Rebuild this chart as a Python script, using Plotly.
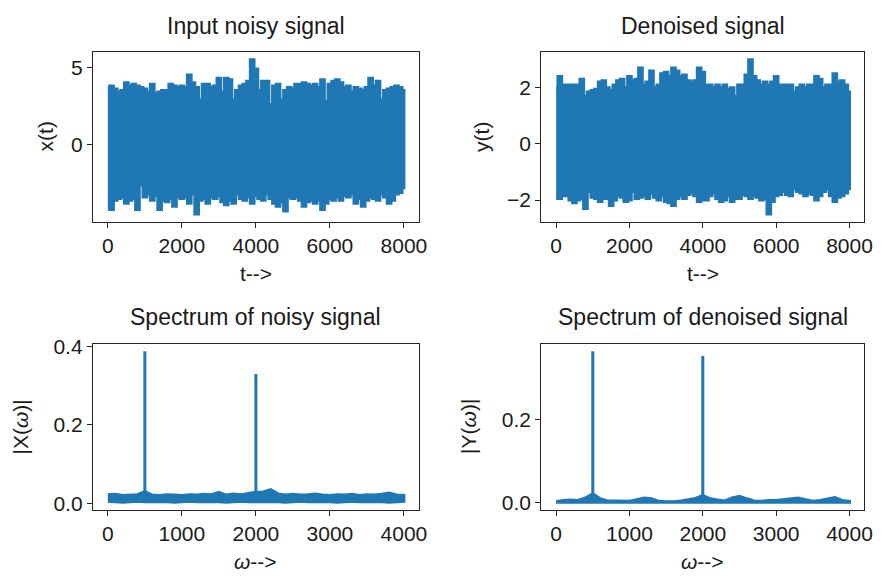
import plotly.graph_objects as go

W, H = 888, 583
BLUE = "#1f77b4"
FONT = "Liberation Sans, Arial, Helvetica, sans-serif"

# ---------------- data ----------------
# time-domain envelopes, sampled every 100 samples (t = 0..8000)
t_env = list(range(0, 8001, 100))
noisy_upper = [3.7, 3.8, 3.6, 3.4, 3.5, 4.0, 3.8, 3.9, 3.8, 3.7,
               3.6, 3.4, 3.9, 3.3, 3.4, 3.5, 3.5, 3.9, 3.8, 3.7,
               3.8, 3.7, 4.5, 4.0, 3.7, 2.9, 3.9, 3.9, 3.7, 3.8,
               4.3, 3.4, 4.3, 4.2, 2.9, 3.5, 3.8, 3.9, 4.1, 5.5,
               4.9, 3.5, 4.1, 4.1, 2.6, 3.8, 3.9, 2.9, 3.5, 3.7,
               3.6, 3.9, 3.9, 4.0, 3.9, 3.8, 3.9, 3.7, 4.2, 2.8,
               3.9, 4.1, 4.2, 4.0, 3.7, 3.8, 3.4, 3.7, 3.6, 3.5,
               3.7, 4.3, 3.8, 4.1, 2.9, 3.5, 3.6, 3.7, 3.8, 3.7, 3.5]
noisy_lower = [-4.1, -4.2, -3.6, -3.5, -3.4, -3.8, -3.6, -3.5, -4.2, -2.6,
               -3.4, -3.2, -3.6, -3.3, -4.2, -3.6, -3.7, -3.5, -4.0, -3.4,
               -3.5, -3.4, -3.8, -3.2, -4.5, -3.6, -3.5, -3.8, -3.4, -3.5,
               -3.3, -3.7, -3.9, -3.6, -3.8, -3.2, -3.5, -3.6, -3.4, -3.8,
               -3.3, -3.5, -3.6, -3.2, -3.5, -3.8, -4.0, -3.7, -4.3, -3.4,
               -3.5, -3.4, -3.6, -4.0, -3.7, -3.6, -3.8, -3.6, -4.2, -3.8,
               -3.5, -3.6, -3.4, -3.6, -3.3, -3.4, -3.2, -3.8, -3.5, -4.0,
               -3.6, -3.4, -3.5, -3.6, -3.2, -3.4, -3.8, -3.6, -3.2, -3.1, -2.8]
den_upper = [2.0, 2.4, 2.1, 2.1, 2.1, 2.1, 2.1, 2.3, 1.7, 1.85,
             1.9, 1.95, 2.2, 2.25, 2.0, 1.9, 2.1, 2.25, 2.3, 2.0,
             2.4, 2.25, 2.3, 2.7, 2.1, 2.2, 2.6, 2.0, 2.1, 2.5,
             2.55, 2.4, 2.7, 2.6, 2.4, 2.45, 2.25, 2.2, 2.25, 2.7,
             2.55, 2.1, 2.1, 2.0, 2.1, 2.0, 2.1, 1.95, 2.0, 1.7,
             2.1, 2.1, 2.45, 3.0, 2.4, 2.25, 2.1, 2.2, 2.1, 2.2,
             2.4, 2.1, 2.1, 2.1, 2.1, 1.85, 2.0, 2.1, 2.0, 2.1,
             2.1, 2.4, 2.3, 2.0, 2.1, 2.1, 2.5, 2.2, 2.25, 2.1, 1.85]
den_lower = [-1.95, -1.95, -1.85, -1.85, -2.0, -2.1, -2.0, -1.95, -2.3, -1.7,
             -1.9, -1.95, -2.05, -1.95, -1.95, -2.2, -2.0, -1.85, -1.9, -2.05,
             -2.0, -1.7, -1.95, -1.9, -1.85, -1.95, -1.75, -1.9, -2.0, -1.85,
             -2.05, -2.1, -2.2, -1.95, -1.85, -1.95, -1.8, -1.75, -1.85, -2.05,
             -2.0, -2.0, -1.85, -1.75, -1.95, -2.05, -2.0, -1.85, -2.05, -1.95,
             -1.95, -1.8, -1.85, -1.95, -1.85, -1.9, -2.0, -1.95, -2.5, -2.05,
             -1.85, -1.8, -1.7, -1.8, -1.85, -1.6, -1.7, -1.75, -1.85, -1.75,
             -1.8, -2.0, -1.85, -1.7, -1.6, -1.85, -2.05, -1.9, -1.85, -1.75, -1.6]

# spectrum envelopes, every 100 units of omega (0..4000)
f_env = list(range(0, 4001, 100))
spec_noisy_upper = [0.022, 0.023, 0.020, 0.021, 0.022, 0.030, 0.021, 0.020, 0.022, 0.021,
                    0.020, 0.022, 0.021, 0.023, 0.022, 0.028, 0.021, 0.024, 0.022, 0.025,
                    0.028, 0.029, 0.035, 0.024, 0.021, 0.023, 0.021, 0.022, 0.024, 0.021,
                    0.020, 0.022, 0.021, 0.023, 0.020, 0.022, 0.021, 0.023, 0.026, 0.021, 0.020]
spec_noisy_lower = [0.005, 0.004, 0.003, 0.004, 0.005, 0.004, 0.003, 0.004, 0.004, 0.003,
                    0.004, 0.005, 0.004, 0.003, 0.004, 0.004, 0.003, 0.004, 0.005, 0.004,
                    0.004, 0.003, 0.004, 0.004, 0.003, 0.004, 0.005, 0.004, 0.003, 0.004,
                    0.004, 0.003, 0.004, 0.005, 0.004, 0.003, 0.004, 0.004, 0.003, 0.004, 0.005]
spec_den_upper = [0.003, 0.006, 0.007, 0.006, 0.012, 0.022, 0.010, 0.005, 0.005, 0.004,
                  0.004, 0.008, 0.012, 0.010, 0.004, 0.003, 0.003, 0.005, 0.008, 0.011,
                  0.018, 0.010, 0.007, 0.005, 0.012, 0.016, 0.010, 0.005, 0.004, 0.006,
                  0.006, 0.008, 0.010, 0.012, 0.008, 0.004, 0.006, 0.010, 0.013, 0.006, 0.004]
spec_den_lower = [0.002] * 41
peak_freqs = [500, 2000]
spec_noisy_peaks = [0.387, 0.329]
spec_den_peaks = [0.364, 0.353]

# tick values
x_ticks_time = [0, 2000, 4000, 6000, 8000]
x_ticks_freq = [0, 1000, 2000, 3000, 4000]
y_ticks_noisy = [0, 5]
y_ticks_den = [-2, 0, 2]
y_ticks_spec_noisy = [0.0, 0.2, 0.4]
y_ticks_spec_den = [0.0, 0.2]

# ---------------- figure ----------------
def pad(lo, hi, frac=0.05):
    d = (hi - lo) * frac
    return [lo - d, hi + d]

# panel boxes in pixels: (left, right, top, bottom)
boxes = {
    1: (94, 423, 44, 218),
    2: (547, 873, 44, 218),
    3: (94, 423, 343, 513),
    4: (547, 873, 343, 513),
}

fig = go.Figure()

def band(xs, up, lo, k, shape="linear"):
    fig.add_trace(go.Scatter(
        x=xs + xs[::-1], y=up + lo[::-1], mode="lines", fill="toself",
        fillcolor=BLUE, line=dict(color=BLUE, width=3, shape=shape),
        xaxis="x" if k == 1 else f"x{k}", yaxis="y" if k == 1 else f"y{k}",
        showlegend=False, hoverinfo="skip"))

def peaks(fs, vals, base, k):
    xs, ys = [], []
    for f, v in zip(fs, vals):
        xs += [f, f, None]
        ys += [base, v, None]
    fig.add_trace(go.Scatter(
        x=xs, y=ys, mode="lines", line=dict(color=BLUE, width=3),
        xaxis=f"x{k}", yaxis=f"y{k}", showlegend=False, hoverinfo="skip"))

band(t_env, noisy_upper, noisy_lower, 1, "hvh")
band(t_env, den_upper, den_lower, 2, "hvh")
band(f_env, spec_noisy_upper, spec_noisy_lower, 3)
peaks(peak_freqs, spec_noisy_peaks, 0.01, 3)
band(f_env, spec_den_upper, spec_den_lower, 4)
peaks(peak_freqs, spec_den_peaks, 0.005, 4)

axis_common = dict(
    showline=True, mirror=True, linecolor="#262626", linewidth=1.4,
    ticks="outside", ticklen=5, tickwidth=1.3, tickcolor="#262626",
    showgrid=False, zeroline=False,
    tickfont=dict(family=FONT, size=21, color="#1a1a1a"),
)

ranges = {
    1: (pad(0, 8000), pad(min(noisy_lower), max(noisy_upper)), x_ticks_time, y_ticks_noisy, None),
    2: (pad(0, 8000), pad(min(den_lower), max(den_upper)), x_ticks_time, y_ticks_den, None),
    3: (pad(0, 4000), pad(min(spec_noisy_lower), max(spec_noisy_peaks)), x_ticks_freq, y_ticks_spec_noisy, ".1f"),
    4: (pad(0, 4000), pad(min(spec_den_lower), max(spec_den_peaks)), x_ticks_freq, y_ticks_spec_den, ".1f"),
}

layout = dict(
    width=W, height=H, autosize=False,
    margin=dict(l=0, r=0, t=0, b=0),
    paper_bgcolor="white", plot_bgcolor="white",
    showlegend=False,
)
for k, (l, r, t, b) in boxes.items():
    xr, yr, xt, yt, yf = ranges[k]
    xname = "xaxis" if k == 1 else f"xaxis{k}"
    yname = "yaxis" if k == 1 else f"yaxis{k}"
    xa = "x" if k == 1 else f"x{k}"
    ya = "y" if k == 1 else f"y{k}"
    layout[xname] = dict(axis_common, domain=[l / W, r / W], range=xr,
                         tickvals=xt, anchor=ya)
    yd = dict(axis_common, domain=[1 - b / H, 1 - t / H], range=yr,
              tickvals=yt, anchor=xa)
    if yf:
        yd["tickformat"] = yf
    layout[yname] = yd

fig.update_layout(**layout)

def ann(text, px, py, size, angle=0):
    fig.add_annotation(text=text, x=px / W, y=1 - py / H, xref="paper", yref="paper",
                       showarrow=False, textangle=angle, xanchor="center", yanchor="middle",
                       font=dict(family=FONT, size=size, color="#1a1a1a"))

titles = ["Input noisy signal", "Denoised signal",
          "Spectrum of noisy signal", "Spectrum of denoised signal"]
xlabels = ["t-->", "t-->", "<i>ω</i>-->", "<i>ω</i>-->"]
ylabels = ["x(t)", "y(t)", "|X(<i>ω</i>)|", "|Y(<i>ω</i>)|"]
ylab_x = [46, 487, 21, 474]

for i, k in enumerate([1, 2, 3, 4]):
    l, r, t, b = boxes[k]
    cx = (l + r) / 2
    ann(titles[i], cx, t - 27, 23)
    ann(xlabels[i], cx, b + 53, 21)
    ann(ylabels[i], ylab_x[i], (t + b) / 2, 21, angle=-90)

fig.write_html("out.html")
